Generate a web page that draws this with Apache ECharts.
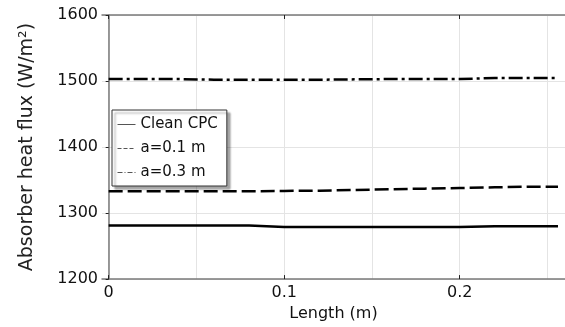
<!DOCTYPE html>
<html>
<head>
<meta charset="utf-8">
<script src="https://cdn.jsdelivr.net/npm/echarts@6/dist/echarts.min.js"></script>
<style>
  html, body { margin: 0; padding: 0; background: #fff; }
  #main { width: 565px; height: 327px; }
</style>
</head>
<body>
<div id="main"></div>
<script>
// 数据
var lengths   = [0, 0.02, 0.04, 0.06, 0.08, 0.1, 0.12, 0.14, 0.16, 0.18, 0.2, 0.22, 0.24, 0.256];
var cleanCPC  = [1281, 1281, 1281, 1281, 1281, 1279, 1279, 1279, 1279, 1279, 1279, 1280, 1280, 1280];
var a01       = [1333, 1333, 1333, 1333, 1333, 1333.5, 1334, 1335, 1336, 1337, 1338, 1339, 1340, 1340];
var a03       = [1503, 1503, 1503, 1502, 1502, 1502, 1502, 1502.5, 1503, 1503, 1503, 1504.5, 1504.5, 1504.5];
var seriesNames = ['Clean CPC', 'a=0.1 m', 'a=0.3 m'];
var xTickVals = [0, 0.1, 0.2];
var xGridVals = [0, 0.05, 0.1, 0.15, 0.2, 0.25];
var xMin = -0.0038, xMax = 0.26;
var yMin = 1200, yMax = 1600, yStep = 100;

function pairs(ys){
	var out = [];
	for (var i = 0; i < lengths.length; i++){
		out.push([lengths[i], ys[i]]);
	}
	return out;
}

var font = 'DejaVu Sans';
var axisGray = '#7a7a7a';
var clear = 'rgba(0,0,0,0)';

var myChart = echarts.init(document.getElementById('main'), null, {renderer: 'canvas'});
var option = {
	animation: false,
	grid: { left: 102, right: 0, top: 15, bottom: 47, containLabel: false },
	legend: {
		orient: 'vertical',
		left: 112,
		top: 110,
		padding: [7, 9, 6, 5],
		itemWidth: 18,
		itemHeight: 14,
		itemGap: 9,
		backgroundColor: '#fff',
		borderColor: '#333',
		borderWidth: 1,
		shadowColor: 'rgba(0,0,0,0.35)',
		shadowBlur: 2,
		shadowOffsetX: 3,
		shadowOffsetY: 3,
		textStyle: { fontFamily: font, fontSize: 15, color: '#111' },
		itemStyle: { color: clear, borderColor: clear, borderWidth: 0 },
		lineStyle: { width: 1, color: '#555' },
		data: [
			{ name: seriesNames[0], lineStyle: { type: 'solid' } },
			{ name: seriesNames[1], lineStyle: { type: [4, 2] } },
			{ name: seriesNames[2], lineStyle: { type: [5, 2, 1, 2] } }
		]
	},
	xAxis: [
		{
			type: 'value', position: 'bottom', min: xMin, max: xMax,
			name: 'Length (m)', nameLocation: 'middle', nameGap: 23,
			nameTextStyle: { fontFamily: font, fontSize: 16, color: '#111' },
			axisLine: { show: true, lineStyle: { color: axisGray, width: 1.5 } },
			axisTick: { show: true, inside: true, length: 4, customValues: xTickVals, lineStyle: { color: '#222' } },
			axisLabel: { customValues: xTickVals, margin: 6, fontFamily: font, fontSize: 16, color: '#111',
				formatter: function(v){ return String(v); } },
			splitLine: { show: false }
		},
		{
			type: 'value', position: 'top', min: xMin, max: xMax,
			axisLine: { show: true, lineStyle: { color: axisGray, width: 1.5 } },
			axisTick: { show: true, inside: true, length: 4, customValues: xTickVals, lineStyle: { color: '#222' } },
			axisLabel: { show: false },
			splitLine: { show: false }
		},
		{
			type: 'value', position: 'bottom', min: xMin, max: xMax,
			axisLine: { show: false },
			axisTick: { show: false, customValues: xGridVals },
			axisLabel: { show: false },
			splitLine: { show: true, lineStyle: { color: '#e4e4e4', width: 1 } }
		}
	],
	yAxis: {
		type: 'value', min: yMin, max: yMax, interval: yStep,
		name: 'Absorber heat flux (W/m²)', nameLocation: 'middle', nameGap: 65,
		nameTextStyle: { fontFamily: font, fontSize: 19, color: '#222' },
		axisLine: { show: true, lineStyle: { color: axisGray, width: 1.5 } },
		axisTick: { show: true, inside: false, length: 3, lineStyle: { color: '#222' } },
		axisLabel: { margin: 4, fontFamily: font, fontSize: 16, color: '#111',
			formatter: function(v){ return String(v); } },
		splitLine: { show: true, lineStyle: { color: '#e4e4e4', width: 1 } }
	},
	series: [
		{
			name: seriesNames[0], type: 'line', xAxisIndex: 0, symbol: 'none',
			lineStyle: { color: '#000', width: 2.5, type: 'solid' },
			itemStyle: { color: '#000' },
			data: pairs(cleanCPC)
		},
		{
			name: seriesNames[1], type: 'line', xAxisIndex: 0, symbol: 'none',
			lineStyle: { color: '#000', width: 2.5, type: [14, 5] },
			itemStyle: { color: '#000' },
			data: pairs(a01)
		},
		{
			name: seriesNames[2], type: 'line', xAxisIndex: 0, symbol: 'none',
			lineStyle: { color: '#000', width: 2.5, type: [14, 4, 3, 4] },
			itemStyle: { color: '#000' },
			data: pairs(a03)
		}
	]
};
myChart.setOption(option);
</script>
</body>
</html>
